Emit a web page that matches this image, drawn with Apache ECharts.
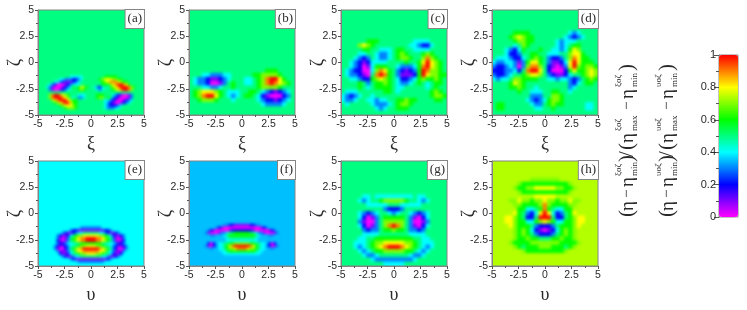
<!DOCTYPE html>
<html><head><meta charset="utf-8">
<style>
html,body{margin:0;padding:0;background:#fff;width:747px;height:310px;overflow:hidden}
#clip,#over{position:absolute;left:0;top:0;width:747px;height:310px}
#heat{width:747px;height:310px;filter:blur(1.6px)}
</style>
<script src="https://cdn.jsdelivr.net/npm/echarts@6/dist/echarts.min.js"></script>
</head><body>
<div id="clip"><div id="heat"></div></div>
<div id="over"></div>
<script>
// Levels: 0..9,a = 0..1.0 of the colour scale; s = .35, t = .74
const _5='55555 55555 55555 55555 55555',_4='44444 44444 44444 44444 44444',_s='sssss sssss sssss sssss sssss',_t='ttttt ttttt ttttt ttttt ttttt';
const L5='55555 55555 55555 55555 55555 55555 55555 55555',L4='44444 44444 44444 44444 44444 44444 44444 44444',Ls='sssss sssss sssss sssss sssss sssss sssss sssss';
const topA=Array(25).fill(L5),topE=Array(25).fill(L4),topF=Array(24).fill(Ls);
const panelA=[...topA,
'55555 55555 55444 44555 55555 66666 55555 55555',
'55555 55544 33322 34555 55567 88877 66555 55555',
'55555 54432 11123 45555 55556 78999 87665 55555',
'55554 32000 12344 45555 55556 66789 aa986 55555',
'55543 10001 23465 68765 54324 54678 9aaa9 76555',
'55553 10012 34555 67655 55434 55567 89aa9 75555',
L5,
'55557 9aa98 76555 44455 55666 55543 21001 35555',
'55557 9aaa9 87545 33455 55677 56532 10001 35555',
'55555 789aa a8766 55555 55555 44321 00123 45555',
'55555 56789 aa866 55555 55555 43210 01234 55555',
'55555 55567 88876 55555 55555 43222 34555 55555',
'55555 55555 67776 55555 55555 43334 45555 55555',
L5,L5];
const panelB=[_5,_5,_5,_5,_5,_5,_5,_5,_5,_5,_5,_5,_5,_5,
'55555 55555 55555 55566 65555','55544 33344 55555 66777 76555','54332 11234 55544 5679a a8655','54332 00135 65544 5679a 98765','55544 33455 65555 56777 76555',
'56788 87654 44556 65432 12345','5679a a8654 34566 54210 00235','55677 76555 45555 54322 12345','55555 55555 55555 55433 33455',_5,_5];
const panelC=[_5,_5,_5,_5,_5,_5,_5,
'55555 56665 55555 55444 45555','55557 87655 55555 54432 24555','55555 66554 44566 55444 45555','55554 45543 34567 65556 76555','55543 23543 34567 76557 97655',
'55432 12444 45555 65568 a8765','55432 01466 65543 33469 a8765','54322 00479 86532 1236a 97765','54332 1059a 96531 1126a 87766','55443 22678 76542 23467 66765',
'55556 53566 76543 34565 45665','55556 54566 66544 55555 45655','54445 55555 66545 55555 56765','43234 55455 55555 55555 56776','43345 54434 45566 76655 55665',
'54555 55433 34567 76555 55555','55555 55543 45566 65555 55555',_5];
const panelD=[_5,_5,_5,_5,_5,
'55555 66665 55555 55543 45555','55556 78766 55555 55432 34555','55555 67766 55555 43444 55555','55555 45765 55555 43456 65555','55543 24655 56554 43468 75555',
'55542 23556 65544 45578 86555','54443 22456 76532 23579 86655','43344 31368 86531 1248a 86665','32234 30379 97521 0138a 76776','22233 4259a a8520 00268 66787',
'32234 55678 87532 11245 56787','43445 77666 65544 34432 35676','55556 87655 55555 55532 45665','55556 67655 45555 55534 55555','55555 56554 44556 65545 55555',
'55555 55553 33557 76555 55555','55555 55543 23467 76555 55555','56655 55554 33567 66555 55445','56655 55555 44556 55555 55445',_5];
const panelE=[...topE,
'44444 44444 44444 43333 33334 44444 44444 44444',
'44444 44444 44322 11111 11111 22344 44444 44444',
'44444 44443 21123 44555 55544 32112 34444 44444',
'44444 44321 12456 77888 88877 65421 12344 44444',
'44444 44310 13567 899aa aa998 76531 01344 44444',
'44444 44210 13567 899aa aa998 76531 01244 44444',
'44444 44322 34445 56666 66665 54443 22344 44444',
'44444 43211 23455 67788 88776 55432 11234 44444',
'44444 43100 23567 89aaa aaa98 76532 00134 44444',
'44444 44311 13457 88999 99988 75431 11344 44444',
'44444 44421 12455 67788 88776 55421 12444 44444',
'44444 44443 21134 45555 55554 43112 34444 44444',
'44444 44444 44321 11111 11111 12344 44444 44444',
'44444 44444 44444 33333 33333 44444 44444 44444',
L4];
const panelF=[...topF,
'sssss sssss sss33 22111 11122 33sss sssss sssss',
'sssss sssss 32100 00000 00000 00123 sssss sssss',
'sssss ss321 00000 12222 22221 00000 123ss sssss',
'sssss s3100 01334 55666 66655 43310 0013s sssss',
'sssss sss33 sss45 66666 66666 54sss 33sss sssss',
'sssss sssss ssss4 55555 55555 4ssss sssss sssss',
'sssss sssss ssss4 44444 44444 4ssss sssss sssss',
'sssss ss202 s4455 66777 77766 5544s 202ss sssss',
'sssss s3102 34456 89aaa aaa98 65443 2013s sssss',
'sssss sss3s s4456 77899 99877 6544s s3sss sssss',
'sssss sssss ss445 66666 66666 544ss sssss sssss',
'sssss sssss sss44 44444 44444 44sss sssss sssss',
Ls,Ls,Ls,Ls];
const panelG=[_5,_5,_5,_5,_5,_5,_5,_5,
'55555 44544 44444 44544 55555','55554 34556 77777 65543 45555','55555 54444 45554 44445 55555','55555 55555 32223 55555 55555',
'55554 32345 54345 54323 45555','55554 20135 66666 53102 45555','55553 10035 77777 53001 35555','55554 20135 79a97 53102 45555','55555 32335 66766 53323 55555',
'55555 44445 55555 54444 55555','55554 45566 66666 66554 45555','55544 45677 88888 77654 44555','55543 45678 9aaa9 87654 34555','55554 34566 77777 66543 45555',
'55555 43345 55555 54334 55555','55555 55433 33333 33455 55555','55555 55555 44444 55555 55555'];
const panelH=[_t,_t,_t,_t,
'ttttt tttt7 77777 7tttt ttttt','ttttt t7666 66666 6667t ttttt','ttttt 76677 88888 77667 ttttt','ttttt t7666 66666 6667t ttttt','ttttt ttttt 88888 ttttt ttttt',
'tttt7 78776 77877 67787 7tttt','ttttt 77666 67976 66677 ttttt','ttttt t6644 56965 4466t ttttt','ttttt 86532 48a84 23568 ttttt','ttt88 76522 5aaa5 22567 88ttt',
'ttt88 76644 67876 44667 88ttt','tttt8 76665 32223 56667 8tttt','ttttt 76764 21012 46767 ttttt','ttttt 76765 32223 56767 ttttt','ttttt 76676 65556 67667 ttttt',
'tttt7 66667 77777 76666 7tttt','ttttt 76566 67776 66567 ttttt','ttttt tt766 66666 667tt ttttt',_t,_t,_t];
const panels=[panelA,panelB,panelC,panelD,panelE,panelF,panelG,panelH];
const panelTags=['(a)','(b)','(c)','(d)','(e)','(f)','(g)','(h)'];
const xNames=['ξ','ξ','ξ','ξ','υ','υ','υ','υ'];
const yName='ζ';
const colours=['#ff00ff','#0000ff','#00ffff','#00ff00','#ffff00','#ff0000'];
const edgeColours=['#00ff80','#00ff80','#00ff80','#00ff80','#00ffff','#00bfff','#00ff80','#b2ff00'];

const LEFT=[38,189,341,492],TOP=[10,161],W=106,H=105,PAD=4;
const level=c=>c==='a'?1:c==='s'?.35:c==='t'?.74:(+c)/10;
const pos=p=>({l:LEFT[p%4],t:TOP[p>>2]});
const hGrid=[],hX=[],hY=[],hS=[];
let clipPath='';
panels.forEach((rows,p)=>{
  const {l,t}=pos(p),N=rows.length,bw=W/N,bh=H/N,M=N+2*PAD;
  const cats=Array.from({length:M},(_,i)=>String(i));
  clipPath+=`M${l} ${t}H${l+W}V${t+H}H${l}Z `;
  hGrid.push({left:l-PAD*bw,top:t-PAD*bh,width:W+2*PAD*bw,height:H+2*PAD*bh,show:true,borderWidth:0,backgroundColor:edgeColours[p],outerBoundsMode:'none'});
  hX.push({type:'category',gridIndex:p,data:cats,show:false});
  hY.push({type:'category',gridIndex:p,data:cats,show:false});
  const clean=rows.map(r=>r.replace(/ /g,'')),data=[];
  for(let r=0;r<M;r++)for(let c=0;c<M;c++){
    const rr=Math.min(N-1,Math.max(0,r-PAD)),cc=Math.min(N-1,Math.max(0,c-PAD));
    data.push([c,M-1-r,level(clean[rr][cc])]);
  }
  hS.push({type:'heatmap',xAxisIndex:p,yAxisIndex:p,data,progressive:0,animation:false,emphasis:{disabled:true}});
});
document.getElementById('clip').style.clipPath=`path('${clipPath.trim()}')`;
const heat=echarts.init(document.getElementById('heat'),null,{renderer:'canvas'});
heat.setOption({animation:false,grid:hGrid,xAxis:hX,yAxis:hY,series:hS,
  visualMap:{show:false,type:'continuous',min:0,max:1,seriesIndex:hS.map((_,i)=>i),inRange:{color:colours}}});

const ink='#2a2a2a',frame='#858585',tick='#555';
const fmt=v=>String(v);
const oGrid=[],oX=[],oY=[],graphic=[];
panels.forEach((_,p)=>{
  const {l,t}=pos(p);
  oGrid.push({left:l,top:t,width:W,height:H,show:true,borderColor:frame,borderWidth:1,backgroundColor:'transparent',outerBoundsMode:'none'});
  const common={type:'value',gridIndex:p,min:-5,max:5,interval:2.5,splitLine:{show:false},
    axisLine:{show:true,onZero:false,lineStyle:{color:frame}},axisTick:{show:true,length:3,lineStyle:{color:tick}},
    minorTick:{show:true,splitNumber:2,length:2,lineStyle:{color:tick}},
    axisLabel:{formatter:fmt,color:ink,fontFamily:'Liberation Sans',fontSize:10.5,margin:4,showMinLabel:true,showMaxLabel:true},
    nameLocation:'middle',nameTextStyle:{fontFamily:'Liberation Serif',fontSize:18,color:ink}};
  oX.push({...common,name:xNames[p],nameGap:20});
  oY.push({...common});
  graphic.push({type:'text',x:l-23,y:t+H/2,rotation:Math.PI/2,z:40,style:{text:yName,align:'center',verticalAlign:'middle',font:'18px "Liberation Serif"',fill:ink}});
  graphic.push({type:'text',x:l+W,y:t,z:50,style:{text:panelTags[p],align:'right',verticalAlign:'top',font:'13px "Liberation Serif"',fill:ink,
    backgroundColor:'#fff',borderColor:frame,borderWidth:1,padding:[2,2,3,2]}});
});
oGrid.push({left:719,top:55,width:19,height:162,show:true,borderColor:frame,borderWidth:1,backgroundColor:'transparent',outerBoundsMode:'none'});
oX.push({type:'value',gridIndex:8,min:0,max:1,show:false});
oY.push({type:'value',gridIndex:8,min:0,max:1,interval:.2,splitLine:{show:false},axisLine:{show:true,lineStyle:{color:frame}},
  axisTick:{show:true,length:5,lineStyle:{color:tick}},minorTick:{show:true,splitNumber:2,length:3,lineStyle:{color:tick}},
  axisLabel:{formatter:fmt,color:ink,fontFamily:'Liberation Sans',fontSize:11,margin:3}});

function ratioLabel(x,sup){
  const main=(t,d,s,dy)=>({type:'text',x:d,y:dy||0,style:{text:t,font:`${s}px "Liberation Serif"`,fill:ink,verticalAlign:'middle'}});
  return {type:'group',x,y:217,rotation:Math.PI/2,z:40,children:[
    main('(',0,21),main('η',6,19,1),main('−',19,15),main('η',30,19,1),main('min',41,9,8),main(sup,41,9,-8),main(')',55,21),
    main('/',60,21),main('(',67,21),main('η',74,19,1),main('max',86,9,8),main(sup,86,9,-8),main('−',107,15),
    main('η',118,19,1),main('min',130,9,8),main(sup,130,9,-8),main(')',146,21)]};
}
graphic.push(ratioLabel(627,'ξoζ'),ratioLabel(667,'υoζ'));

const over=echarts.init(document.getElementById('over'),null,{renderer:'canvas'});
over.setOption({animation:false,backgroundColor:'transparent',grid:oGrid,xAxis:oX,yAxis:oY,series:[],graphic,
  visualMap:{type:'continuous',show:true,min:0,max:1,left:719,top:55,itemWidth:19,itemHeight:162,calculable:false,realtime:false,
    padding:0,inRange:{color:colours},seriesIndex:[],hoverLink:false,textStyle:{fontSize:0,color:'transparent'},formatter:()=>''}});
</script>
</body></html>
